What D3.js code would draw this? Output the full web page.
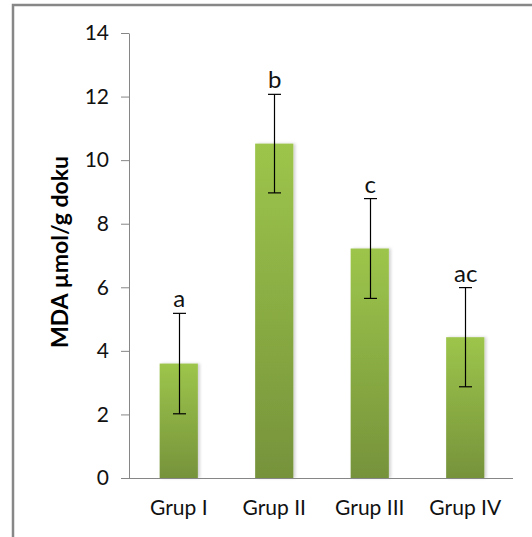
<!DOCTYPE html>
<html>
<head>
<meta charset="utf-8">
<script src="https://cdn.jsdelivr.net/npm/d3@7"></script>
<style>
  html, body { margin: 0; padding: 0; background: #fff; }
  svg { display: block; font-family: Lato, "Open Sans", sans-serif; }
</style>
</head>
<body>
<svg id="chart" width="532" height="537"></svg>
<script>
// MDA levels per group (mean ± SD) with significance letters
const groups = ["Grup I", "Grup II", "Grup III", "Grup IV"];
const means = [3.6, 10.52, 7.22, 4.43];
const errors = [1.58, 1.55, 1.57, 1.56];
const letters = ["a", "b", "c", "ac"];
const yTicks = [0, 2, 4, 6, 8, 10, 12, 14];
const yLabel = "MDA µmol/g doku";

const svg = d3.select("#chart");
const axisColor = "#868686";

// Outer chart frame (top and left edges visible)
svg.append("rect")
  .attr("x", 13).attr("y", 5)
  .attr("width", 560).attr("height", 560)
  .attr("fill", "none")
  .attr("stroke", "#878787")
  .attr("stroke-width", 2.5);

const y = d3.scaleLinear().domain([0, 14]).range([478, 33]);
const x = d3.scaleBand().domain(groups).range([131, 513]).paddingInner(0.6).paddingOuter(0.3);

const defs = svg.append("defs");
const grad = defs.append("linearGradient")
  .attr("id", "barFill").attr("x1", 0).attr("y1", 0).attr("x2", 0).attr("y2", 1);
grad.append("stop").attr("offset", "0%").attr("stop-color", "#9dc54b");
grad.append("stop").attr("offset", "100%").attr("stop-color", "#76933b");

const shadow = defs.append("filter").attr("id", "barShadow")
  .attr("x", "-20%").attr("y", "-5%").attr("width", "150%").attr("height", "110%");
shadow.append("feDropShadow")
  .attr("dx", 2).attr("dy", 0).attr("stdDeviation", 1.5)
  .attr("flood-color", "#000").attr("flood-opacity", 0.18);

// Bars
svg.append("g").selectAll("rect")
  .data(groups)
  .join("rect")
  .attr("x", d => x(d))
  .attr("y", (d, i) => y(means[i]))
  .attr("width", x.bandwidth())
  .attr("height", (d, i) => y(0) - y(means[i]))
  .attr("fill", "url(#barFill)")
  .attr("filter", "url(#barShadow)");

// Y axis
const yAxis = svg.append("g")
  .attr("transform", "translate(129,0)")
  .call(d3.axisLeft(y).tickValues(yTicks).tickSize(8).tickPadding(12).tickSizeOuter(0));
yAxis.select(".domain").attr("stroke", axisColor);
yAxis.selectAll(".tick line").attr("stroke", axisColor);
yAxis.selectAll(".tick text")
  .attr("fill", "#111")
  .style("font-size", "21px")
  .style("font-family", "Lato, 'Open Sans', sans-serif");

// X axis baseline
const xAxis = svg.append("g")
  .attr("transform", `translate(0,${y(0)})`)
  .call(d3.axisBottom(x).tickSize(0).tickPadding(22).tickSizeOuter(0));
xAxis.select(".domain").attr("stroke", axisColor).attr("d", "M129,0.5H513");
xAxis.selectAll(".tick text")
  .attr("fill", "#111")
  .style("font-size", "21px")
  .style("font-family", "Lato, 'Open Sans', sans-serif");

// Error bars
const eb = svg.append("g").attr("stroke", "#000").attr("stroke-width", 1.2);
groups.forEach((g, i) => {
  const cx = Math.round(x(g) + x.bandwidth() / 2) + 0.5;
  const top = y(means[i] + errors[i]);
  const bot = y(means[i] - errors[i]);
  eb.append("line").attr("x1", cx).attr("x2", cx).attr("y1", top).attr("y2", bot);
  eb.append("line").attr("x1", cx - 6.5).attr("x2", cx + 6.5).attr("y1", top).attr("y2", top);
  eb.append("line").attr("x1", cx - 6.5).attr("x2", cx + 6.5).attr("y1", bot).attr("y2", bot);
});

// Significance letters above error bars
svg.append("g").selectAll("text")
  .data(groups)
  .join("text")
  .attr("x", d => x(d) + x.bandwidth() / 2 + 0.5)
  .attr("y", (d, i) => y(means[i] + errors[i]) - 6)
  .attr("text-anchor", "middle")
  .attr("fill", "#111")
  .style("font-size", "24px")
  .text((d, i) => letters[i]);

// Y axis title
svg.append("text")
  .attr("transform", "translate(68,252) rotate(-90)")
  .attr("text-anchor", "middle")
  .attr("fill", "#000")
  .style("font-size", "23px")
  .style("font-weight", "bold")
  .text(yLabel);
</script>
</body>
</html>
